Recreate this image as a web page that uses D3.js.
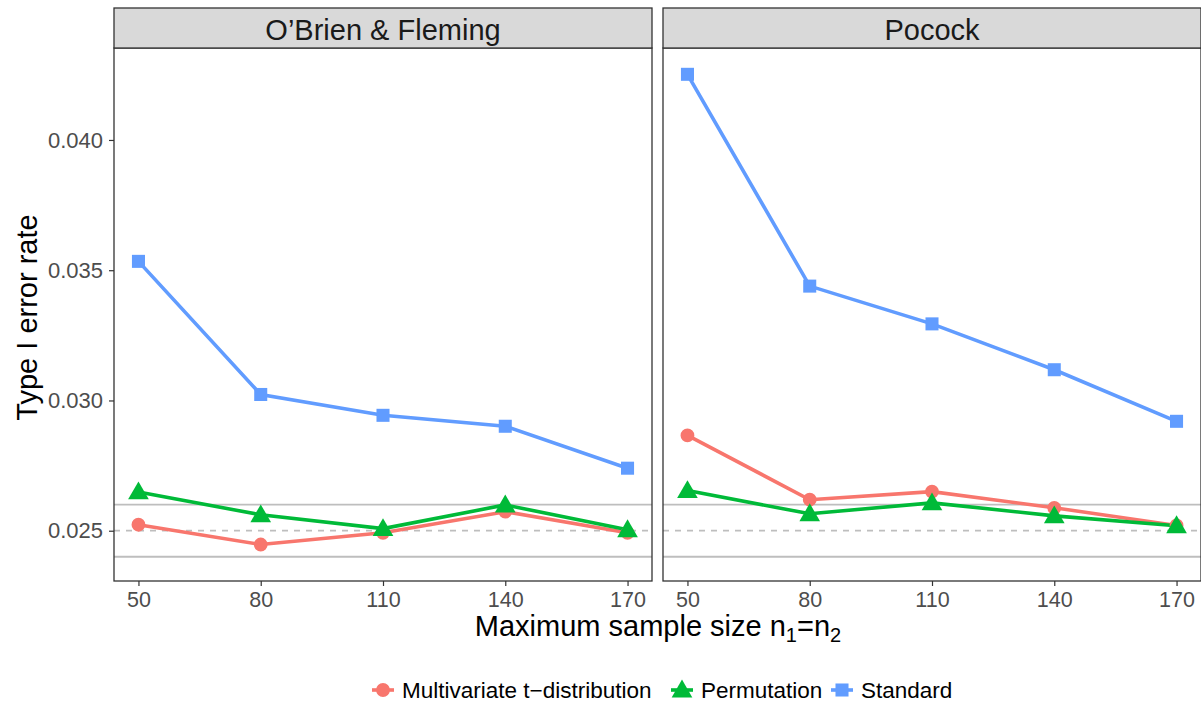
<!DOCTYPE html>
<html>
<head>
<meta charset="utf-8">
<script src="https://cdn.jsdelivr.net/npm/d3@7"></script>
<style>
  body { margin: 0; background: #fff; }
  svg { display: block; font-family: "Liberation Sans", Arial, sans-serif; }
</style>
</head>
<body>
<svg id="chart"></svg>
<script>
// data
const sampleSizes = [50, 80, 110, 140, 170];
const panels = ["O\u2019Brien & Fleming", "Pocock"];
const methods = ["Multivariate t\u2212distribution", "Permutation", "Standard"];
const colors = ["#F8766D", "#00BA38", "#619CFF"];

const obfMultivariate = [0.02523, 0.02447, 0.02492, 0.02573, 0.02492];
const obfPermutation  = [0.02649, 0.02561, 0.02508, 0.02599, 0.02504];
const obfStandard     = [0.03534, 0.03023, 0.02943, 0.02901, 0.02740];

const pocMultivariate = [0.02866, 0.02619, 0.02650, 0.02588, 0.02520];
const pocPermutation  = [0.02654, 0.02565, 0.02607, 0.02557, 0.02519];
const pocStandard     = [0.04252, 0.03439, 0.03294, 0.03118, 0.02920];

const yTicks = [0.025, 0.030, 0.035, 0.040];
const refLines = [0.024, 0.026];
const nominal = 0.025;

const panelData = [
  [obfMultivariate, obfPermutation, obfStandard],
  [pocMultivariate, pocPermutation, pocStandard]
];

const width = 1201, height = 704;
const svg = d3.select("#chart").attr("width", width).attr("height", height);

const panelW = 538, stripTop = 8, stripH = 40, plotTop = 48, plotBottom = 581;
const panelLeft = [114, 663];
const font = "Liberation Sans, Arial, sans-serif";

const x = d3.scaleLinear().domain([44, 176]).range([0, panelW]);
const y = d3.scaleLinear().domain([0.02307, 0.04353]).range([plotBottom, plotTop]);

const symbols = [d3.symbolCircle, d3.symbolTriangle, d3.symbolSquare];
const symSize = [150, 185, 170];

panels.forEach((name, pi) => {
  const g = svg.append("g").attr("transform", `translate(${panelLeft[pi]},0)`);

  // reference band lines
  refLines.forEach(v => {
    g.append("line").attr("x1", 0).attr("x2", panelW)
      .attr("y1", y(v)).attr("y2", y(v))
      .attr("stroke", "#BEBEBE").attr("stroke-width", 1.8);
  });
  g.append("line").attr("x1", 0).attr("x2", panelW)
    .attr("y1", y(nominal)).attr("y2", y(nominal))
    .attr("stroke", "#BEBEBE").attr("stroke-width", 1.8)
    .attr("stroke-dasharray", "6,6");

  const line = d3.line().x((d, i) => x(sampleSizes[i])).y(d => y(d));

  panelData[pi].forEach((vals, si) => {
    g.append("path").datum(vals)
      .attr("d", line)
      .attr("fill", "none")
      .attr("stroke", colors[si])
      .attr("stroke-width", 3.6);
  });
  panelData[pi].forEach((vals, si) => {
    g.selectAll(null).data(vals).join("path")
      .attr("transform", (d, i) => `translate(${x(sampleSizes[i])},${y(d) + (si === 1 ? 1.5 : 0)})`)
      .attr("d", d3.symbol().type(symbols[si]).size(symSize[si]))
      .attr("fill", colors[si]);
  });

  // panel border
  g.append("rect").attr("x", 0).attr("y", plotTop).attr("width", panelW)
    .attr("height", plotBottom - plotTop)
    .attr("fill", "none").attr("stroke", "#333").attr("stroke-width", 1.3);

  // strip
  g.append("rect").attr("x", 0).attr("y", stripTop).attr("width", panelW)
    .attr("height", stripH)
    .attr("fill", "#D9D9D9").attr("stroke", "#333").attr("stroke-width", 1.3);
  g.append("text").attr("x", panelW / 2).attr("y", stripTop + 32)
    .attr("text-anchor", "middle").attr("font-size", 29).attr("fill", "#1A1A1A")
    .text(name);

  // x axis
  const xa = g.append("g").attr("transform", `translate(0,${plotBottom})`)
    .call(d3.axisBottom(x).tickValues(sampleSizes).tickSize(5).tickPadding(6));
  xa.select(".domain").remove();
  xa.selectAll("line").attr("stroke", "#333").attr("stroke-width", 1.2);
  xa.selectAll("text").attr("font-size", 21.5).attr("fill", "#4D4D4D")
    .attr("font-family", font);

  if (pi === 0) {
    const ya = g.append("g")
      .call(d3.axisLeft(y).tickValues(yTicks).tickFormat(d3.format(".3f")).tickSize(5).tickPadding(6));
    ya.select(".domain").remove();
    ya.selectAll("line").attr("stroke", "#333").attr("stroke-width", 1.2);
    ya.selectAll("text").attr("font-size", 22).attr("fill", "#4D4D4D")
      .attr("font-family", font);
  }
});

// axis titles
svg.append("text")
  .attr("transform", `translate(37,${(plotTop + plotBottom) / 2 + 3}) rotate(-90)`)
  .attr("text-anchor", "middle").attr("font-size", 29).attr("fill", "#000")
  .text("Type I error rate");

const xt = svg.append("text")
  .attr("x", 658).attr("y", 636)
  .attr("text-anchor", "middle").attr("font-size", 29).attr("fill", "#000");
xt.append("tspan").text("Maximum sample size n");
xt.append("tspan").attr("font-size", 20).attr("dy", 6).text("1");
xt.append("tspan").attr("dy", -6).text("=n");
xt.append("tspan").attr("font-size", 20).attr("dy", 6).text("2");

// legend
const legendX = [383, 682, 842];
const legend = svg.append("g");
methods.forEach((m, i) => {
  const lg = legend.append("g").attr("transform", `translate(${legendX[i]},690)`);
  lg.append("line").attr("x1", -11).attr("x2", 11).attr("y1", 0).attr("y2", 0)
    .attr("stroke", colors[i]).attr("stroke-width", 3.6);
  lg.append("path")
    .attr("transform", `translate(0,${i === 1 ? 1.5 : 0})`)
    .attr("d", d3.symbol().type(symbols[i]).size(symSize[i]))
    .attr("fill", colors[i]);
  lg.append("text").attr("x", 19).attr("y", 8)
    .attr("font-size", 22.5).attr("fill", "#000").text(m);
});
</script>
</body>
</html>
